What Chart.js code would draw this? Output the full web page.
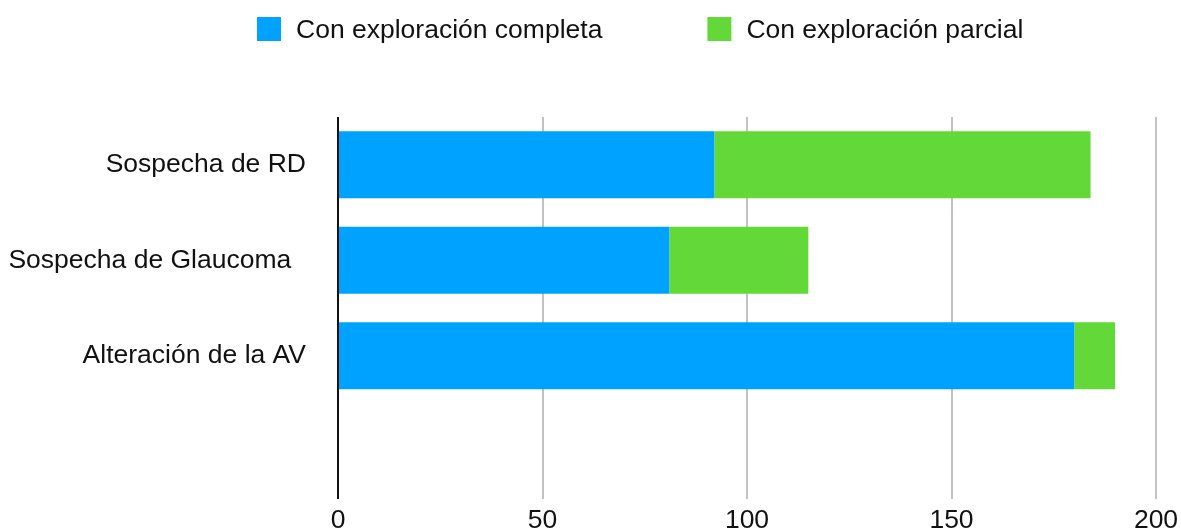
<!DOCTYPE html>
<html>
<head>
<meta charset="utf-8">
<script src="https://cdn.jsdelivr.net/npm/chart.js@4/dist/chart.umd.min.js"></script>
<style>
  html, body { margin: 0; padding: 0; background: #fff; }
  #wrap { width: 1181px; height: 531px; }
</style>
</head>
<body>
<div id="wrap"><canvas id="chartcontainer"></canvas></div>
<script>
// datos
var categorias = ['Sospecha de RD', 'Sospecha de Glaucoma  ', 'Alteración de la AV', ''];
var completa = [92, 81, 180, null];
var parcial = [92, 34, 10, null];
var ticksX = [0, 50, 100, 150, 200];

var fuente = "'Liberation Sans', Arial, sans-serif";

// leyenda dibujada a mano (la de Chart.js no deja separar tanto los items)
var leyendaPropia = {
  id: 'leyendaPropia',
  afterDraw: function(chart) {
    var c = chart.ctx;
    var x = 257;
    c.save();
    c.font = '26.5px ' + fuente;
    c.textBaseline = 'middle';
    c.textAlign = 'left';
    chart.data.datasets.forEach(function(ds) {
      c.fillStyle = ds.backgroundColor;
      c.fillRect(x, 17, 24, 24);
      c.fillStyle = '#111';
      c.fillText(ds.label, x + 39, 31);
      x += 39 + c.measureText(ds.label).width + 105;
    });
    c.restore();
  }
};

var ctx = document.getElementById('chartcontainer').getContext('2d');
var chart = new Chart(ctx, {
  type: 'bar',
  data: {
    labels: categorias,
    datasets: [{
      label: 'Con exploración completa',
      data: completa,
      backgroundColor: '#00a2ff'
    }, {
      label: 'Con exploración parcial',
      data: parcial,
      backgroundColor: '#63d939'
    }]
  },
  options: {
    indexAxis: 'y',
    responsive: true,
    maintainAspectRatio: false,
    animation: false,
    layout: { padding: { top: 117, right: 25, bottom: 0, left: 0 } },
    datasets: { bar: { categoryPercentage: 1, barPercentage: 0.7 } },
    plugins: {
      legend: { display: false },
      tooltip: { enabled: false }
    },
    scales: {
      x: {
        stacked: true,
        min: 0,
        max: 200,
        afterBuildTicks: function(scale) {
          scale.ticks = ticksX.map(function(v) { return { value: v }; });
        },
        afterFit: function(scale) {
          scale.height = 32;
          scale.paddingLeft = 0;
          scale.paddingRight = 0;
        },
        border: { display: false },
        grid: {
          drawTicks: false,
          lineWidth: 2,
          color: function(c) { return c.tick && c.tick.value === 0 ? '#111' : '#c2c2c2'; }
        },
        ticks: { padding: 6, color: '#111', font: { family: fuente, size: 26.5 } }
      },
      y: {
        stacked: true,
        afterFit: function(scale) {
          scale.width = 338;
          scale.paddingTop = 0;
          scale.paddingBottom = 0;
        },
        border: { display: false },
        grid: { display: false, drawTicks: false },
        ticks: { padding: 32, color: '#111', font: { family: fuente, size: 26.5 } }
      }
    }
  },
  plugins: [leyendaPropia]
});
</script>
</body>
</html>
